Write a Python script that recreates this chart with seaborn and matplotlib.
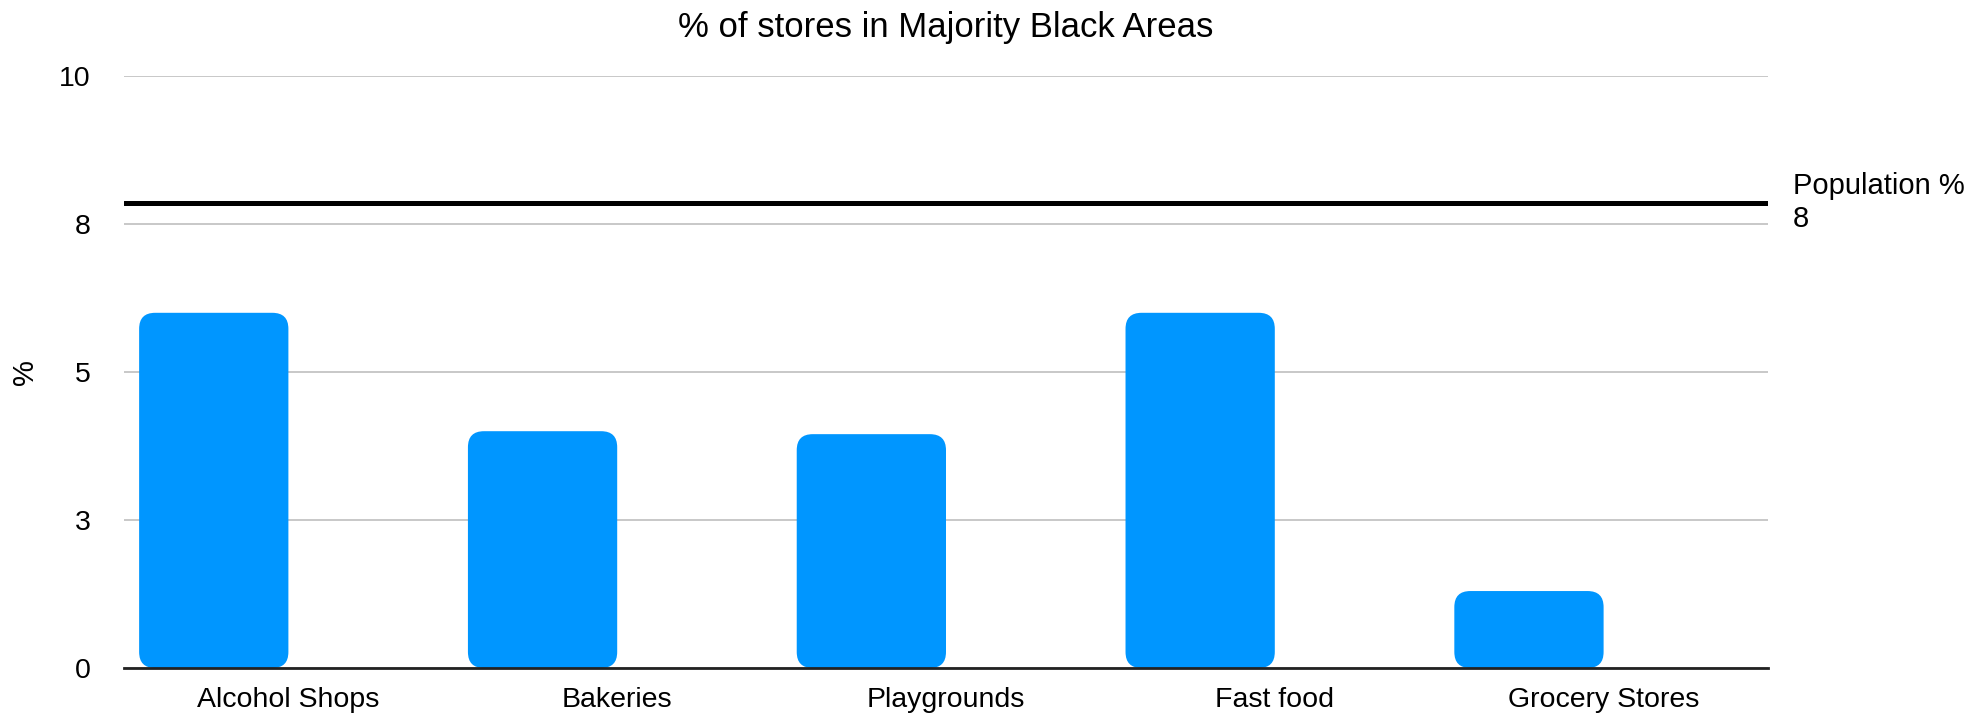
import numpy as np
import pandas as pd
import matplotlib
matplotlib.use("Agg")
import matplotlib.pyplot as plt
import seaborn as sns
from matplotlib.patches import FancyBboxPatch
from matplotlib.transforms import blended_transform_factory

categories = ["Alcohol Shops", "Bakeries", "Playgrounds", "Fast food", "Grocery Stores"]
store_pct = [6.0, 4.0, 3.95, 6.0, 1.3]
population_pct = 7.86
y_ticks = [0, 2.5, 5, 7.5, 10]
y_tick_labels = ["0", "3", "5", "8", "10"]

BAR_COLOR = "#0096ff"
FS = 20.5

sns.set_theme(style="white")
plt.rcParams["font.family"] = ["Liberation Sans", "DejaVu Sans"]

df = pd.DataFrame({"category": categories, "pct": store_pct})

fig = plt.figure(figsize=(19.86, 7.14), dpi=100)
ax = fig.add_axes([124 / 1986, 46 / 714, 1644 / 1986, 592 / 714])

bar_w = 0.454
sns.barplot(data=df, x="category", y="pct", color=BAR_COLOR, width=bar_w,
            saturation=1, ax=ax, zorder=3)

ax.set_ylim(0, 10)
ax.set_xlim(-0.5, len(categories) - 0.5)

# bars sit left of the category centre (Numbers leaves room for a 2nd series);
# swap seaborn's rectangles for rounded ones
fig.canvas.draw()
bbox = ax.get_window_extent()
px_x = bbox.width / (len(categories))
px_y = bbox.height / 10.0
radius_px = 16
r_x = radius_px / px_x
aspect = (radius_px / px_y) / r_x
for p in list(ax.patches):
    x, y = p.get_x(), p.get_y()
    w, h = p.get_width(), p.get_height()
    p.remove()
    ax.add_patch(FancyBboxPatch((x - w / 2, y), w, h,
                                boxstyle=f"round,pad=0,rounding_size={r_x}",
                                mutation_aspect=aspect,
                                facecolor=BAR_COLOR, edgecolor="none",
                                zorder=3))

# population reference line
ax.axhline(population_pct, color="black", lw=3.6, zorder=4)
trans = blended_transform_factory(ax.transAxes, ax.transData)
ax.annotate(f"Population %\n{population_pct:.0f}", xy=(1, population_pct),
            xycoords=trans, xytext=(18, 0), textcoords="offset points",
            ha="left", va="center", fontsize=21, linespacing=1.2,
            color="black")

ax.set_yticks(y_ticks)
ax.set_yticklabels(y_tick_labels)
ax.yaxis.grid(True, color="#c4c4c4", lw=1.3)
ax.set_axisbelow(True)
for side in ["left", "right", "top"]:
    ax.spines[side].set_visible(False)
ax.spines["bottom"].set_color("#222222")
ax.spines["bottom"].set_linewidth(2)
ax.spines["bottom"].set_zorder(5)

ax.tick_params(axis="y", length=0, pad=24, labelsize=FS, labelcolor="black")
ax.tick_params(axis="x", length=0, pad=14, labelsize=FS, labelcolor="black")

ax.set_xlabel("")
ax.set_ylabel("%", fontsize=21, color="black")
ax.yaxis.set_label_coords(-0.052, 0.5)
ax.set_title("% of stores in Majority Black Areas", fontsize=25, pad=28,
             color="black")

fig.savefig("out.png", dpi=100, facecolor="white")
